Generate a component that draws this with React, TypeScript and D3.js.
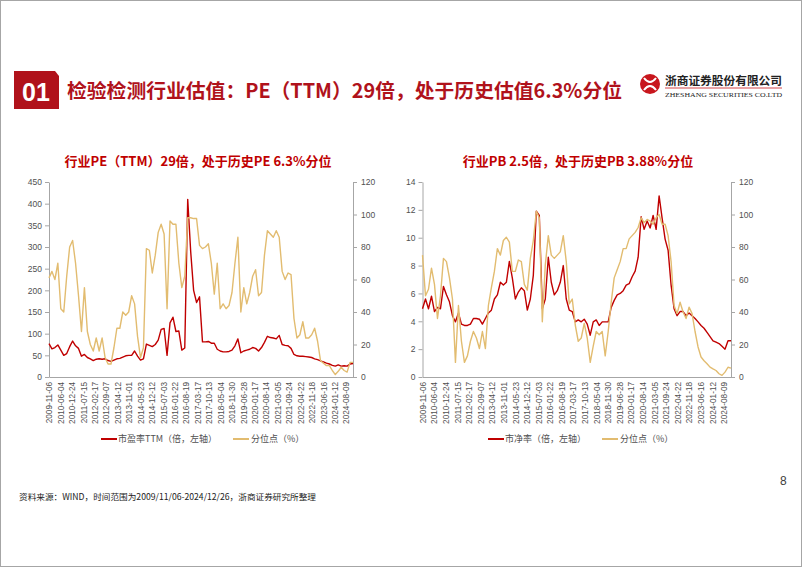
import * as d3 from 'd3'
import React from 'react'

// category labels shown on the x axis (every label step of the source chart)
const dateLabels = [
    '2009-11-06', '2010-06-04', '2010-12-24', '2011-07-15', '2012-02-17', '2012-09-07',
    '2013-04-12', '2013-11-01', '2014-05-23', '2014-12-12', '2015-07-03', '2016-01-22',
    '2016-08-19', '2017-03-17', '2017-10-13', '2018-05-04', '2018-11-30', '2019-06-28',
    '2020-01-17', '2020-08-14', '2021-03-05', '2021-09-24', '2022-04-22', '2022-11-18',
    '2023-06-16', '2024-01-12', '2024-08-09',
]

// industry PE (TTM), sampled evenly over 2009/11/06 - 2024/12/26
const peTTM = [
    77, 65, 68, 74, 62, 50, 54, 70, 83, 72,
    66, 48, 52, 45, 42, 38, 41, 42, 41, 42,
    38, 36, 39, 42, 43, 46, 49, 50, 50, 60,
    48, 39, 42, 76, 73, 70, 75, 85, 110, 112,
    50, 125, 138, 105, 106, 62, 67, 410, 290, 200,
    172, 185, 81, 81, 82, 78, 78, 64, 60, 58,
    58, 59, 62, 72, 88, 56, 60, 62, 64, 68,
    66, 60, 68, 80, 94, 91, 90, 88, 96, 75,
    73, 72, 66, 52, 49, 48, 48, 47, 46, 45,
    42, 40, 37, 35, 32, 30, 27, 25, 28, 25,
    26, 25, 30, 31,
]

// PE historical percentile (%)
const pePct = [
    61, 65, 60, 70, 42, 40, 62, 80, 84, 70,
    50, 28, 55, 28, 20, 16, 24, 16, 24, 12,
    8, 8, 18, 30, 30, 40, 38, 40, 50, 45,
    25, 12, 18, 79, 78, 64, 75, 89, 94, 88,
    42, 96, 94, 94, 70, 55, 62, 98, 98, 97.5,
    97.5, 81, 79, 80, 82, 70, 51, 70, 42, 45,
    42, 44, 52, 70, 86, 40, 55, 45, 52, 62,
    66, 50, 52, 75, 90, 88, 86, 90, 86, 65,
    60, 64, 63, 36, 24, 26, 34, 24, 24, 26,
    30, 22, 10, 8.5, 7, 7, 4, 1.5, 3.5, 6,
    4, 3, 9, 9,
]

// industry PB
const pbValues = [
    4.9, 5.6, 4.9, 5.8, 4.7, 5.0, 4.9, 6.5, 5.9, 5.4,
    4.4, 3.96, 4.6, 3.8, 3.7, 3.7, 3.8, 4.2, 4.2, 4.15,
    3.8, 4.2, 4.6, 4.8, 5.6, 5.9, 6.8, 6.6, 6.8, 8.3,
    7.1, 5.6, 6.1, 6.4, 6.2, 4.8, 5.6, 7.3, 11.9, 11.6,
    4.9, 5.6, 8.6, 6.8, 5.9, 6.2, 6.8, 8.0, 5.6, 4.8,
    4.7, 3.96, 4.1, 3.96, 4.15, 3.8, 3.0, 3.96, 4.1, 3.7,
    3.96, 3.96, 3.96, 5.0, 5.5, 5.9, 6.0, 6.2, 6.6, 6.7,
    7.2, 7.6, 8.6, 11.5, 10.6, 11.2, 10.7, 11.6, 10.6, 13.0,
    11.4, 9.9, 9.1, 6.6, 4.9, 4.4, 4.7, 4.7, 4.4, 4.6,
    4.4, 4.2, 3.96, 3.7, 3.5, 3.2, 2.9, 2.6, 2.5, 2.4,
    2.2, 2.0, 2.6, 2.6,
]

// PB historical percentile (%)
const pbPct = [
    75, 50, 54, 67, 57, 36, 50, 73, 71, 61,
    48, 9, 44, 22, 9, 13, 22, 28, 24, 17.5,
    28, 17.5, 44, 55, 65, 79, 75, 84, 86, 83,
    65, 65, 72, 71, 57, 53.5, 73, 84, 102, 98,
    34, 69, 87, 75, 73, 75, 77, 87, 71, 45,
    48, 32, 22, 24, 33, 24, 9, 19, 28, 26,
    28, 13, 28, 46, 61, 66, 71, 79, 79, 85,
    87, 89, 92, 98, 95, 97, 96, 94, 98, 100,
    94, 94, 87, 71, 44, 39, 46, 40, 36, 43,
    39, 28, 18.5, 12.3, 10, 8.2, 6.1, 5, 4, 2,
    1, 3, 6, 5.5,
]

const peTicks = [0, 50, 100, 150, 200, 250, 300, 350, 400, 450]
const pbTicks = [0, 2, 4, 6, 8, 10, 12, 14]
const pctTicks = [0, 20, 40, 60, 80, 100, 120]

// the data covers this many label steps on the category axis
const X_SPAN = 26.6

const RED = '#C00000'
const GOLD = '#E2BC70'
const AXIS_GRAY = '#A6A6A6'
const TEXT_GRAY = '#505050'
const TITLE_RED = '#C00000'
const CJK = '"Noto Sans CJK SC", "Noto Sans", sans-serif'
const LATIN = '"Liberation Sans", Arial, sans-serif'

const W = 802
const H = 567
const plotTop = 182
const plotBottom = 377

interface IPanel {
    x0: number
    x1: number
    leftMax: number
    leftTicks: number[]
    leftValues: number[]
    pctValues: number[]
    title: string
    titleX: number
    legendRed: string
    legendRedX: number
    legendGoldX: number
}

function drawPanel(svg: d3.Selection<SVGSVGElement, unknown, null, undefined>, p: IPanel) {
    const g = svg.append('g')
    const x = d3.scaleLinear().domain([0, X_SPAN]).range([p.x0, p.x1])
    const yL = d3.scaleLinear().domain([0, p.leftMax]).range([plotBottom, plotTop])
    const yR = d3.scaleLinear().domain([0, 120]).range([plotBottom, plotTop])
    const step = X_SPAN / (p.leftValues.length - 1)

    // left axis
    g.append('g')
        .attr('class', 'y-axis')
        .attr('transform', `translate(${p.x0},0)`)
        .call(d3.axisLeft(yL).tickValues(p.leftTicks).tickSize(4).tickSizeOuter(0).tickPadding(3).tickFormat(d3.format('d')))

    // right axis (percentile)
    g.append('g')
        .attr('class', 'y-axis')
        .attr('transform', `translate(${p.x1},0)`)
        .call(d3.axisRight(yR).tickValues(pctTicks).tickSize(4).tickSizeOuter(0).tickPadding(4).tickFormat(d3.format('d')))

    // x axis
    const xAxis = g
        .append('g')
        .attr('transform', `translate(0,${plotBottom})`)
        .call(
            d3
                .axisBottom(x)
                .tickValues(d3.range(dateLabels.length))
                .tickSize(0)
                .tickSizeOuter(0)
                // @ts-ignore
                .tickFormat((i: number) => dateLabels[i])
        )

    g.selectAll('.domain').attr('stroke', AXIS_GRAY).attr('stroke-width', 1)
    g.selectAll('.tick line').attr('stroke', AXIS_GRAY)
    g.selectAll('text').attr('fill', TEXT_GRAY).attr('font-family', LATIN)
    g.selectAll('.y-axis text').attr('font-size', 8.5)

    xAxis
        .selectAll('text')
        .attr('transform', 'rotate(-90)')
        .attr('text-anchor', 'end')
        .attr('x', -5)
        .attr('y', 0)
        .attr('dy', '0.33em')
        .attr('font-size', 8.2)

    // lines
    const lineL = d3
        .line<number>()
        .x((d, i) => x(i * step))
        .y((d) => yL(d))
    const lineR = d3
        .line<number>()
        .x((d, i) => x(i * step))
        .y((d) => yR(d))

    g.append('path')
        .datum(p.leftValues)
        .attr('d', lineL)
        .attr('fill', 'none')
        .attr('stroke', RED)
        .attr('stroke-width', 1.4)
        .attr('stroke-linejoin', 'round')

    g.append('path')
        .datum(p.pctValues)
        .attr('d', lineR)
        .attr('fill', 'none')
        .attr('stroke', GOLD)
        .attr('stroke-width', 1.4)
        .attr('stroke-linejoin', 'round')

    // title
    g.append('text')
        .attr('x', p.titleX)
        .attr('y', 166)
        .attr('text-anchor', 'middle')
        .attr('font-family', CJK)
        .attr('font-weight', 'bold')
        .attr('font-size', 13)
        .attr('fill', TITLE_RED)
        .text(p.title)

    // legend
    const ly = 439
    g.append('line')
        .attr('x1', p.legendRedX).attr('x2', p.legendRedX + 16)
        .attr('y1', ly).attr('y2', ly)
        .attr('stroke', RED).attr('stroke-width', 2)
    g.append('text')
        .attr('x', p.legendRedX + 17).attr('y', ly + 3)
        .attr('font-family', CJK).attr('font-size', 9).attr('fill', TEXT_GRAY)
        .text(p.legendRed)
    g.append('line')
        .attr('x1', p.legendGoldX).attr('x2', p.legendGoldX + 16)
        .attr('y1', ly).attr('y2', ly)
        .attr('stroke', GOLD).attr('stroke-width', 2)
    g.append('text')
        .attr('x', p.legendGoldX + 18).attr('y', ly + 3)
        .attr('font-family', CJK).attr('font-size', 9).attr('fill', TEXT_GRAY)
        .text('分位点（%）')
}

export default function App() {
    const svgRef = React.useRef<SVGSVGElement | null>(null)

    React.useEffect(() => {
        const svg = d3.select(svgRef.current as SVGSVGElement)
        svg.selectAll('*').remove()

        // slide frame
        svg.append('rect')
            .attr('x', 0.5).attr('y', 0.5).attr('width', W - 1).attr('height', H - 1)
            .attr('fill', '#fff').attr('stroke', '#A6A6A6')

        // section badge
        svg.append('path')
            .attr('d', 'M14,71 L55,71 L59,76 L59,109 L14,109 Z')
            .attr('fill', '#B0121B')
        svg.append('text')
            .attr('x', 36).attr('y', 101)
            .attr('text-anchor', 'middle')
            .attr('font-family', LATIN).attr('font-weight', 'bold').attr('font-size', 25)
            .attr('fill', '#fff')
            .text('01')

        // heading
        svg.append('text')
            .attr('x', 67).attr('y', 98)
            .attr('font-family', CJK).attr('font-weight', 'bold').attr('font-size', 19.8)
            .attr('fill', '#B0121B')
            .attr('textLength', 555).attr('lengthAdjust', 'spacingAndGlyphs')
            .text('检验检测行业估值：PE（TTM）29倍，处于历史估值6.3%分位')

        // company logo
        svg.append('circle').attr('cx', 650).attr('cy', 84).attr('r', 10).attr('fill', '#C8161D')
        svg.append('path')
            .attr('d', 'M644,78 Q650,86 656,78 M644,90 Q650,82 656,90')
            .attr('fill', 'none').attr('stroke', '#fff').attr('stroke-width', 2)
        svg.append('text')
            .attr('x', 665).attr('y', 85)
            .attr('font-family', CJK).attr('font-weight', 'bold').attr('font-size', 11.5).attr('fill', '#222')
            .attr('textLength', 117).attr('lengthAdjust', 'spacingAndGlyphs')
            .text('浙商证券股份有限公司')
        svg.append('line')
            .attr('x1', 665).attr('x2', 782).attr('y1', 88).attr('y2', 88)
            .attr('stroke', '#C8161D').attr('stroke-width', 0.8)
        svg.append('text')
            .attr('x', 665).attr('y', 97)
            .attr('font-family', '"Liberation Serif", serif').attr('font-size', 7).attr('fill', '#222')
            .attr('textLength', 117).attr('lengthAdjust', 'spacingAndGlyphs')
            .text('ZHESHANG SECURITIES CO.LTD')

        drawPanel(svg, {
            x0: 49,
            x1: 353,
            leftMax: 450,
            leftTicks: peTicks,
            leftValues: peTTM,
            pctValues: pePct,
            title: '行业PE（TTM）29倍，处于历史PE 6.3%分位',
            titleX: 198,
            legendRed: '市盈率TTM（倍，左轴）',
            legendRedX: 101,
            legendGoldX: 233,
        })

        drawPanel(svg, {
            x0: 422.5,
            x1: 731,
            leftMax: 14,
            leftTicks: pbTicks,
            leftValues: pbValues,
            pctValues: pbPct,
            title: '行业PB 2.5倍，处于历史PB 3.88%分位',
            titleX: 578,
            legendRed: '市净率（倍，左轴）',
            legendRedX: 488,
            legendGoldX: 602,
        })

        // page number
        svg.append('text')
            .attr('x', 780).attr('y', 485)
            .attr('font-family', LATIN).attr('font-size', 12).attr('fill', '#404040')
            .text('8')

        // source note
        svg.append('text')
            .attr('x', 19).attr('y', 500)
            .attr('font-family', CJK).attr('font-size', 8.5).attr('fill', '#222')
            .attr('textLength', 297).attr('lengthAdjust', 'spacingAndGlyphs')
            .text('资料来源：WIND，时间范围为2009/11/06-2024/12/26，浙商证券研究所整理')
    }, [])

    return (
        <div style={{ position: 'absolute', left: 0, top: 0 }}>
            <svg ref={svgRef} width={W} height={H} style={{ display: 'block' }} />
        </div>
    )
}
